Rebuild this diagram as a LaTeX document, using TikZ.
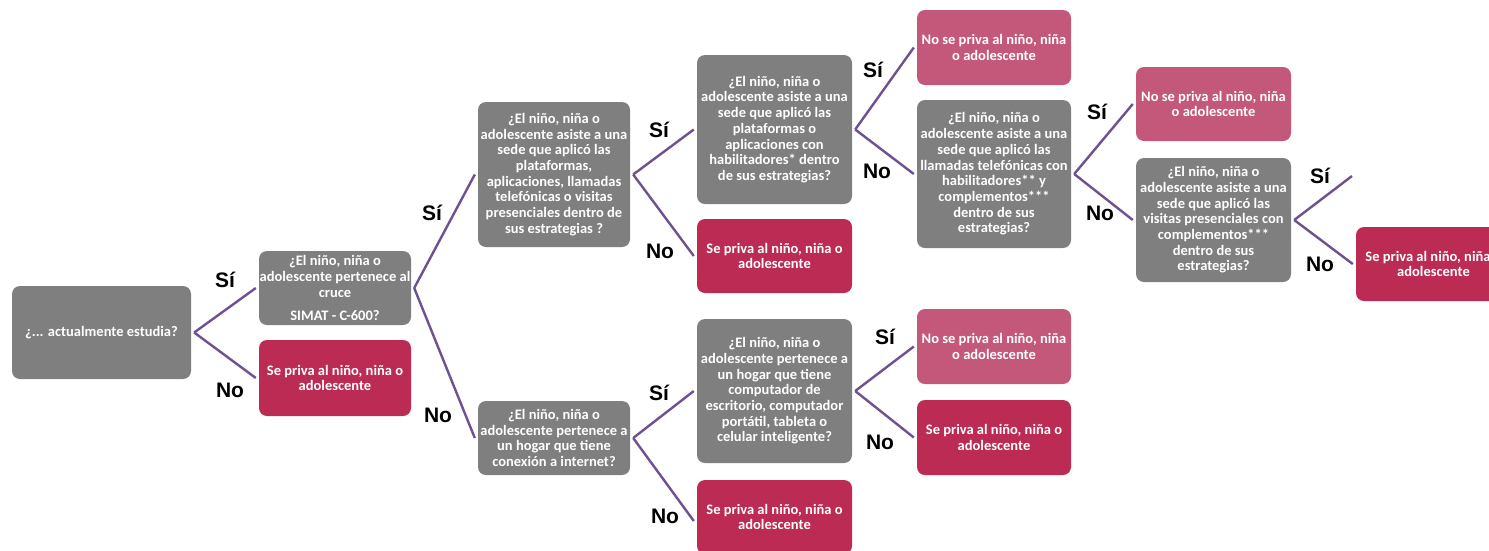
\documentclass[tikz,border=0pt]{standalone}
\usepackage{fontspec}
\newfontfamily\boxfam{Carlito}
\newfontfamily\lblfam{Liberation Sans}
\definecolor{qgray}{HTML}{7F7F7F}
\definecolor{nored}{HTML}{BB2B54}
\definecolor{sipink}{HTML}{C4587A}
\definecolor{linepurple}{HTML}{6E5191}
\tikzset{
  box/.style={rounded corners=8pt, text=white, align=center, inner sep=0pt,
    font=\boxfam\bfseries\fontsize{14.5}{15.7}\selectfont},
  qbox/.style={box, fill=qgray},
  redbox/.style={box, fill=nored},
  pinkbox/.style={box, fill=sipink},
  conn/.style={draw=linepurple, line width=2.4pt},
  lbl/.style={font=\lblfam\bfseries\fontsize{21}{24}\selectfont, text=black, inner sep=0pt}
}
\begin{document}
\begin{tikzpicture}[x=1pt,y=-1pt]
\useasboundingbox (0,0) rectangle (1489,550);
\clip (0,0) rectangle (1489,550);
% level 0
\node[qbox, minimum width=179, minimum height=93] (A) at (101.5,332.5) {¿... actualmente estudia?};
% level 1
\node[qbox, minimum width=152, minimum height=74] (B) at (335,288) {¿El niño, niña o\\adolescente pertenece al\\cruce\\[7pt]SIMAT - C-600?};
\node[redbox, minimum width=152, minimum height=76] (C) at (335,378) {Se priva al niño, niña o\\adolescente};
% level 2
\node[qbox, minimum width=152, minimum height=145] (D) at (554,174.5) {¿El niño, niña o\\adolescente asiste a una\\sede que aplicó las\\plataformas,\\aplicaciones, llamadas\\telefónicas o visitas\\presenciales dentro de\\sus estrategias ?};
\node[qbox, minimum width=152, minimum height=74] (E) at (554,438) {¿El niño, niña o\\adolescente pertenece a\\un hogar que tiene\\conexión a internet?};
% level 3
\node[qbox, minimum width=155, minimum height=149] (F) at (774.5,129.5) {¿El niño, niña o\\adolescente asiste a una\\sede que aplicó las\\plataformas o\\aplicaciones con\\habilitadores* dentro\\de sus estrategias?};
\node[redbox, minimum width=155, minimum height=74] (G) at (774.5,256) {Se priva al niño, niña o\\adolescente};
\node[qbox, minimum width=155, minimum height=144] (M) at (774.5,391) {¿El niño, niña o\\adolescente pertenece a\\un hogar que tiene\\computador de\\escritorio, computador\\portátil, tableta o\\celular inteligente?};
\node[redbox, minimum width=155, minimum height=74] (N) at (774.5,517) {Se priva al niño, niña o\\adolescente};
% level 4
\node[pinkbox, minimum width=154, minimum height=75] (H) at (994,47.5) {No se priva al niño, niña\\o adolescente};
\node[qbox, minimum width=154, minimum height=148] (I) at (994,174) {¿El niño, niña o\\adolescente asiste a una\\sede que aplicó las\\llamadas telefónicas con\\habilitadores** y\\complementos***\\dentro de sus\\estrategias?};
\node[pinkbox, minimum width=154, minimum height=75] (O) at (994,346.5) {No se priva al niño, niña\\o adolescente};
\node[redbox, minimum width=154, minimum height=75] (P) at (994,437.5) {Se priva al niño, niña o\\adolescente};
% level 5
\node[pinkbox, minimum width=155, minimum height=74] (J) at (1213.5,104) {No se priva al niño, niña\\o adolescente};
\node[qbox, minimum width=155, minimum height=124] (K) at (1213.5,220) {¿El niño, niña o\\adolescente asiste a una\\sede que aplicó las\\visitas presenciales con\\complementos***\\dentro de sus\\estrategias?};
% level 6
\node[redbox, minimum width=155, minimum height=74] (L) at (1433.5,264) {Se priva al niño, niña o\\adolescente};
\coordinate (kfree) at (1352,176);
% connectors
\draw[conn] ([xshift=3pt]A.east) -- ([xshift=-3pt]B.west);
\draw[conn] ([xshift=3pt]A.east) -- ([xshift=-3pt]C.west);
\draw[conn] ([xshift=3pt]B.east) -- ([xshift=-3pt]D.west);
\draw[conn] ([xshift=3pt]B.east) -- ([xshift=-3pt]E.west);
\draw[conn] ([xshift=3pt]D.east) -- ([xshift=-3pt]F.west);
\draw[conn] ([xshift=3pt]D.east) -- ([xshift=-3pt]G.west);
\draw[conn] ([xshift=3pt]F.east) -- ([xshift=-3pt]H.west);
\draw[conn] ([xshift=3pt]F.east) -- ([xshift=-3pt]I.west);
\draw[conn] ([xshift=3pt]I.east) -- ([xshift=-3pt]J.west);
\draw[conn] ([xshift=3pt]I.east) -- ([xshift=-3pt]K.west);
\draw[conn] ([xshift=3pt]K.east) -- (kfree);
\draw[conn] ([xshift=3pt]K.east) -- ([xshift=-3pt]L.west);
\draw[conn] ([xshift=3pt]E.east) -- ([xshift=-3pt]M.west);
\draw[conn] ([xshift=3pt]E.east) -- ([xshift=-3pt,yshift=-4pt]N.west);
\draw[conn] ([xshift=3pt]M.east) -- ([xshift=-3pt]O.west);
\draw[conn] ([xshift=3pt]M.east) -- ([xshift=-3pt]P.west);
% labels
\node[lbl] (l1) at (225,280) {Sí};
\node[lbl] (l2) at (230,390) {No};
\node[lbl] (l3) at (432,213) {Sí};
\node[lbl] (l4) at (438,415) {No};
\node[lbl] (l5) at (659,130) {Sí};
\node[lbl] (l6) at (660,251) {No};
\node[lbl] (l7) at (873,70) {Sí};
\node[lbl] (l8) at (877,171) {No};
\node[lbl] (l9) at (1097,112) {Sí};
\node[lbl] (l10) at (1100,213) {No};
\node[lbl] (l11) at (1320,176) {Sí};
\node[lbl] (l12) at (1320,264) {No};
\node[lbl] (l13) at (659,393) {Sí};
\node[lbl] (l14) at (665,516) {No};
\node[lbl] (l15) at (885,337) {Sí};
\node[lbl] (l16) at (880,442) {No};
\end{tikzpicture}
\end{document}
